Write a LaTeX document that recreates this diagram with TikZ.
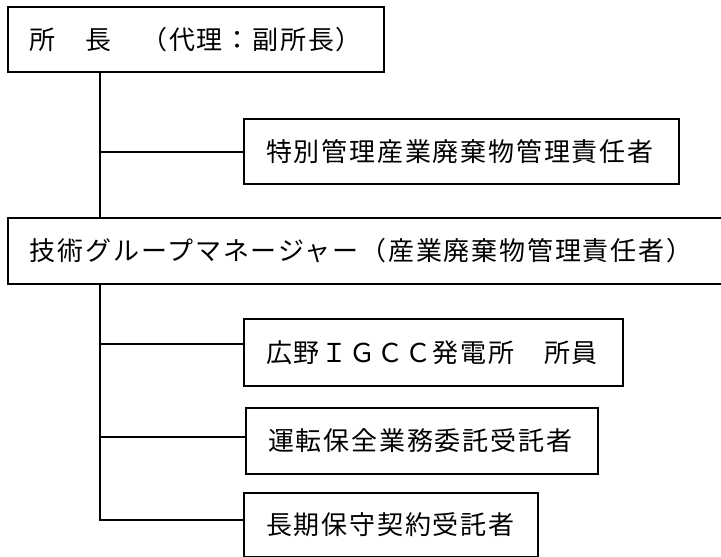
\documentclass[tikz,border=0pt]{standalone}
\usepackage{fontspec}
\newfontfamily\jp[LetterSpace=7]{Noto Sans CJK JP}
\begin{document}
\begin{tikzpicture}[x=1pt,y=-1pt,
  orgbox/.style={draw=black, line width=2pt, anchor=north west, inner xsep=22pt, inner ysep=0pt,
    align=left, font=\jp\fontsize{26}{30}\selectfont},
  conn/.style={draw=black, line width=2pt}]
\useasboundingbox (0,0) rectangle (721,557);
\fill[white] (0,0) rectangle (721,557);
\node[orgbox, text width=332pt, minimum height=65pt] (b1) at (7,6) {所　長　（代理：副所長）};
\node[orgbox, text width=391pt, minimum height=65pt] (b2) at (243,118) {特別管理産業廃棄物管理責任者};
\node[orgbox, text width=689pt, minimum height=66pt] (b3) at (7,217) {技術グループマネージャー（産業廃棄物管理責任者）};
\node[orgbox, text width=335pt, minimum height=67pt] (b4) at (243,318) {広野ＩＧＣＣ発電所　所員};
\node[orgbox, text width=308pt, minimum height=66pt] (b5) at (245,407) {運転保全業務委託受託者};
\node[orgbox, text width=250pt, minimum height=64pt] (b6) at (243,492) {長期保守契約受託者};
\coordinate (vx) at (100,0);
\draw[conn] (b1.south -| vx) -- (b3.north -| vx);
\draw[conn] (vx |- b2.west) -- (b2.west);
\draw[conn] ([yshift=8.5pt]b4.west -| vx) -- ([yshift=8.5pt]b4.west);
\draw[conn] ([yshift=4pt]b5.west -| vx) -- ([yshift=4pt]b5.west);
\draw[conn] (b3.south -| vx) |- ([yshift=5pt]b6.west);
\end{tikzpicture}
\end{document}
